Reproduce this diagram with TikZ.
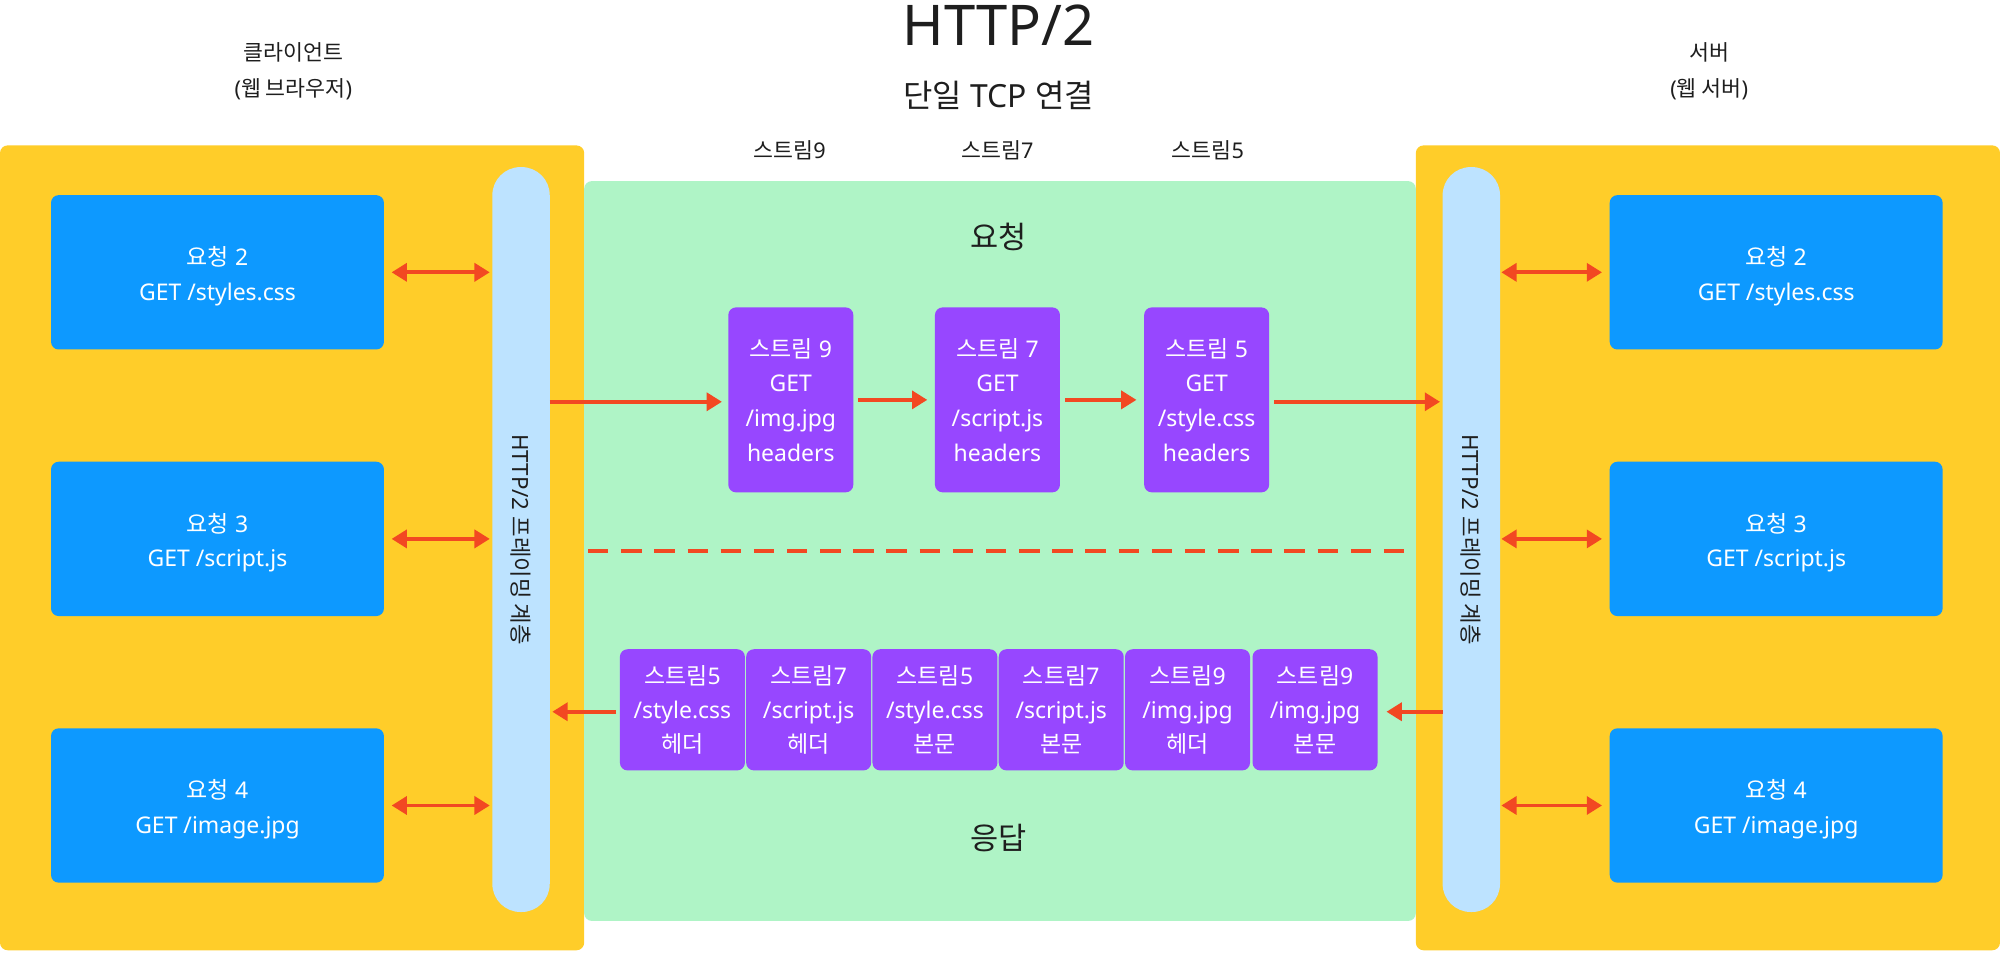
\documentclass[tikz,border=0pt]{standalone}
\usepackage{fontspec}
\setmainfont{Noto Sans}
\newfontfamily\kr{Noto Sans CJK KR}
\usetikzlibrary{arrows.meta}
\definecolor{cYel}{HTML}{FFCD29}
\definecolor{cGreen}{HTML}{AFF4C6}
\definecolor{cBlue}{HTML}{0D99FF}
\definecolor{cLight}{HTML}{BDE3FF}
\definecolor{cPurple}{HTML}{9747FF}
\definecolor{cRed}{HTML}{F24822}
\definecolor{cText}{HTML}{1E1E1E}
\newcommand\topgap{\rule{0pt}{21pt}}
\begin{document}
\begin{tikzpicture}[x=1pt,y=-1pt,
  every node/.style={text=cText, inner sep=0pt, outer sep=0pt},
  panel/.style={fill=cYel, rounded corners=6pt, anchor=north west},
  conn/.style={fill=cGreen, rounded corners=6pt, anchor=north west},
  bar/.style={fill=cLight, rounded corners=22pt, minimum width=45pt, minimum height=584pt},
  reqbox/.style={fill=cBlue, rounded corners=6pt, minimum width=261pt, minimum height=121pt, text=white, align=center, font=\fontsize{18}{27}\selectfont},
  sbox/.style={fill=cPurple, rounded corners=6pt, minimum width=98pt, minimum height=145pt, text=white, align=center, font=\fontsize{18}{27.3}\selectfont},
  rbox/.style={fill=cPurple, rounded corners=6pt, minimum width=98pt, minimum height=95pt, text=white, align=center, font=\fontsize{18}{26.5}\selectfont},
  lbl/.style={font=\fontsize{17}{28}\selectfont, align=center},
  arr/.style={draw=cRed, line width=3pt, -{Triangle[length=12pt,width=14pt]}},
  dbl/.style={draw=cRed, line width=3pt, {Triangle[length=12pt,width=14pt]}-{Triangle[length=12pt,width=14pt]}},
]
\useasboundingbox (0,0) rectangle (1568,746.4);

% panels
\node[panel, minimum width=458pt, minimum height=631pt] (client) at (0,114) {};
\node[panel, minimum width=458pt, minimum height=631pt] (server) at (1110,114) {};
\node[conn, minimum width=652pt, minimum height=580pt] (tcp) at (458,142) {};

% titles
\node[font=\fontsize{44}{50}\selectfont] (title) at (783,20) {HTTP/2};
\node[font=\fontsize{25}{28}\selectfont] (subtitle) at (783,75) {{\kr 단일} TCP {\kr 연결}};
\node[lbl] (clientlbl) at (230,56) {{\kr 클라이언트}\\({\kr 웹 브라우저})};
\node[lbl] (serverlbl) at (1340,56) {{\kr 서버}\\({\kr 웹 서버})};
\node[font=\fontsize{17}{20}\selectfont] (s9) at (619,118) {{\kr 스트림}9};
\node[font=\fontsize{17}{20}\selectfont] (s7) at (782,118) {{\kr 스트림}7};
\node[font=\fontsize{17}{20}\selectfont] (s5) at (947,118) {{\kr 스트림}5};
\node[font=\kr\fontsize{24}{28}\selectfont] (reqlbl) at (783,186) {요청};
\node[font=\kr\fontsize{24}{28}\selectfont] (resplbl) at (783,657) {응답};

% framing bars
\node[bar] (barL) at (408.5,423) {};
\node[bar] (barR) at (1153.5,423) {};
\node[rotate=-90, font=\fontsize{17.5}{20}\selectfont] (barLtxt) at (408.5,423) {HTTP/2 {\kr 프레이밍 계층}};
\node[rotate=-90, font=\fontsize{17.5}{20}\selectfont] (barRtxt) at (1153.5,423) {HTTP/2 {\kr 프레이밍 계층}};

% client request boxes
\node[reqbox] (c2) at (170.5,213.5) {\topgap{\kr 요청} 2\\GET /styles.css};
\node[reqbox] (c3) at (170.5,422.5) {\topgap{\kr 요청} 3\\GET /script.js};
\node[reqbox] (c4) at (170.5,631.5) {\topgap{\kr 요청} 4\\GET /image.jpg};
% server request boxes
\node[reqbox] (v2) at (1392.5,213.5) {\topgap{\kr 요청} 2\\GET /styles.css};
\node[reqbox] (v3) at (1392.5,422.5) {\topgap{\kr 요청} 3\\GET /script.js};
\node[reqbox] (v4) at (1392.5,631.5) {\topgap{\kr 요청} 4\\GET /image.jpg};

% request stream frames
\node[sbox] (p9) at (620,313.5) {{\kr 스트림} 9\\GET\\/img.jpg\\headers};
\node[sbox] (p7) at (782,313.5) {{\kr 스트림} 7\\GET\\/script.js\\headers};
\node[sbox] (p5) at (946,313.5) {{\kr 스트림} 5\\GET\\/style.css\\headers};

% response frames
\node[rbox] (r1) at (535,556.5) {{\kr 스트림}5\\/style.css\\{\kr 헤더}};
\node[rbox] (r2) at (634,556.5) {{\kr 스트림}7\\/script.js\\{\kr 헤더}};
\node[rbox] (r3) at (733,556.5) {{\kr 스트림}5\\/style.css\\{\kr 본문}};
\node[rbox] (r4) at (832,556.5) {{\kr 스트림}7\\/script.js\\{\kr 본문}};
\node[rbox] (r5) at (931,556.5) {{\kr 스트림}9\\/img.jpg\\{\kr 헤더}};
\node[rbox] (r6) at (1031,556.5) {{\kr 스트림}9\\/img.jpg\\{\kr 본문}};

% double arrows client
\draw[dbl] ([xshift=6pt]c2.east) -- ([xshift=-2pt]barL.west |- c2.east);
\draw[dbl] ([xshift=6pt]c3.east) -- ([xshift=-2pt]barL.west |- c3.east);
\draw[dbl] ([xshift=6pt]c4.east) -- ([xshift=-2pt]barL.west |- c4.east);
% double arrows server
\draw[dbl] ([xshift=1pt]barR.east |- v2.west) -- ([xshift=-6pt]v2.west);
\draw[dbl] ([xshift=1pt]barR.east |- v3.west) -- ([xshift=-6pt]v3.west);
\draw[dbl] ([xshift=1pt]barR.east |- v4.west) -- ([xshift=-6pt]v4.west);

% request flow
\draw[arr] ([yshift=-1.5pt]barL.east |- p9.west) -- ([xshift=-5pt,yshift=-1.5pt]p9.west);
\draw[arr] ([xshift=4pt]p9.east) -- ([xshift=-6pt]p7.west);
\draw[arr] ([xshift=4pt]p7.east) -- ([xshift=-6pt]p5.west);
\draw[arr] ([xshift=4pt,yshift=-1.5pt]p5.east) -- ([xshift=-2pt,yshift=-1.5pt]barR.west |- p5.east);

% response flow
\draw[arr] ([xshift=-3pt,yshift=-1.5pt]r1.west) -- ([xshift=2pt,yshift=-1.5pt]barL.east |- r1.west);
\draw[arr] ([yshift=-1.5pt]barR.west |- r6.east) -- ([xshift=7pt,yshift=-1.5pt]r6.east);

% separator
\coordinate (dashL) at (461,432);
\coordinate (dashR) at (1110,432);
\draw[cRed, line width=3pt, dash pattern=on 16pt off 10pt] (dashL) -- (dashR);
\end{tikzpicture}
\end{document}
